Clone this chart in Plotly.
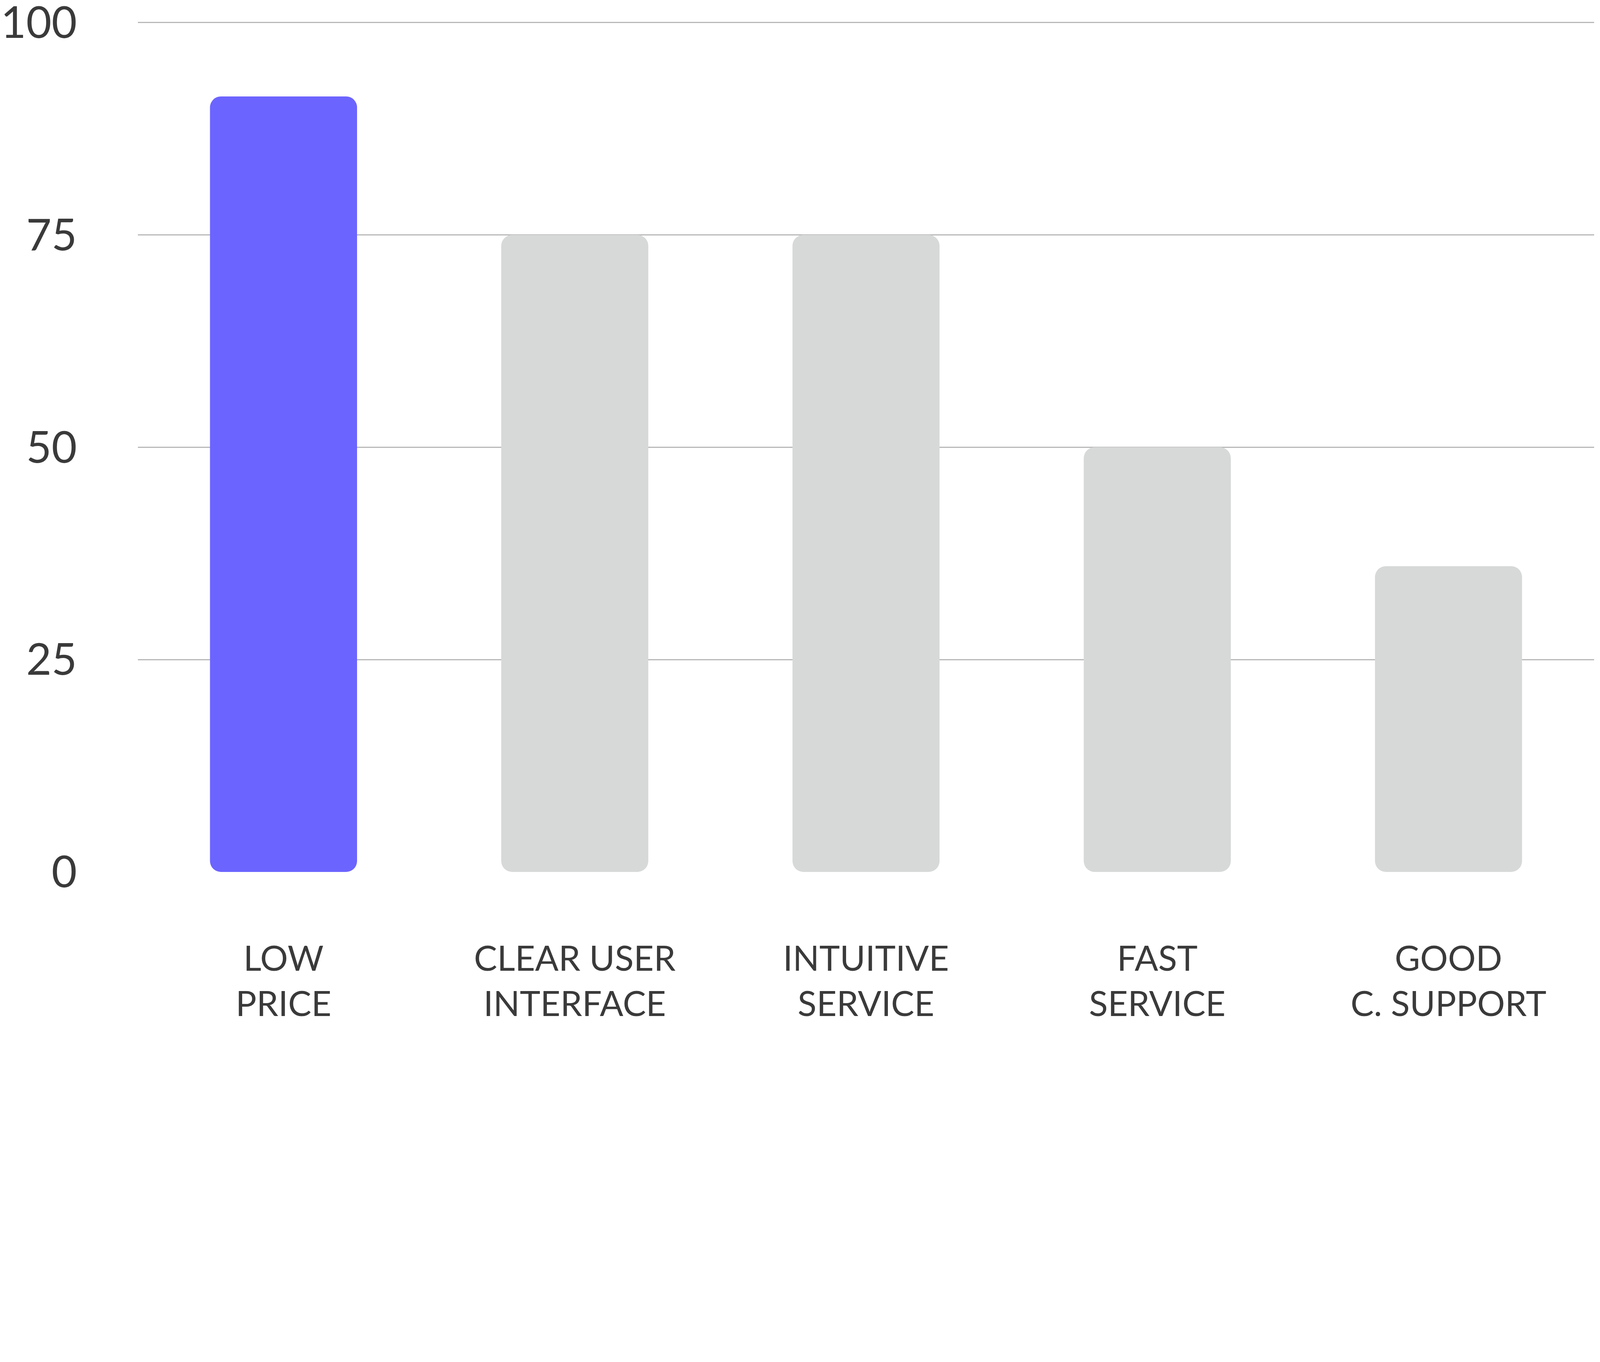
import plotly.graph_objects as go

categories = ["LOW<br>PRICE", "CLEAR USER<br>INTERFACE", "INTUITIVE<br>SERVICE",
              "FAST<br>SERVICE", "GOOD<br>C. SUPPORT"]
values = [91.3, 75, 75, 50, 36]
y_ticks = [0, 25, 50, 75, 100]

bar_colors = ["#6C64FF", "#D7D9D8", "#D7D9D8", "#D7D9D8", "#D7D9D8"]

fig = go.Figure()
fig.add_trace(go.Bar(
    x=categories, y=values, base=[0] * len(values),
    marker=dict(color=bar_colors, line=dict(width=0), cornerradius=28),
    hoverinfo="skip", showlegend=False,
))

fig.update_layout(
    bargap=0.495,
    width=4086, height=2616,
    margin=dict(l=345, r=13, t=41, b=391),
    paper_bgcolor="white", plot_bgcolor="white",
    font=dict(family="Lato", color="#3a3a3a"),
)
fig.update_xaxes(
    showgrid=False, showline=False, zeroline=False, ticks="",
    tickfont=dict(size=89, color="#3a3a3a"),
    ticklabelstandoff=163, automargin=False,
)
fig.update_yaxes(
    range=[0, 100.4], tickvals=y_ticks, showgrid=True, gridcolor="#b8b8b8", gridwidth=3,
    zeroline=False, showline=False, ticks="",
    tickfont=dict(size=112, color="#3a3a3a"),
    ticklabelstandoff=155, ticklabeloverflow="allow", automargin=False,
)

fig.write_html("out.html")
